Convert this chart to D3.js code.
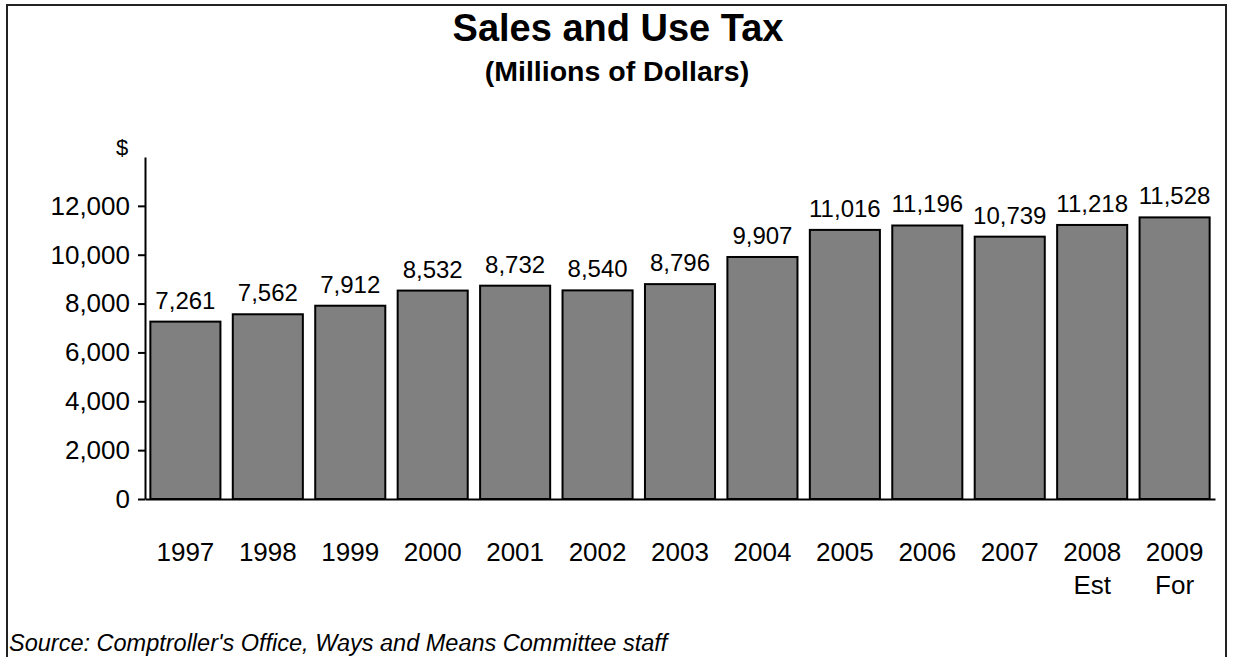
<!DOCTYPE html>
<html>
<head>
<meta charset="utf-8">
<script src="https://cdn.jsdelivr.net/npm/d3@7"></script>
<style>
  html, body { margin: 0; padding: 0; background: #fff; }
  svg { display: block; font-family: "Liberation Sans", Arial, sans-serif; }
</style>
</head>
<body>
<svg id="chart" width="1233" height="657"></svg>
<script>
// Sales and use tax collections by fiscal year (millions of dollars)
const years = ["1997", "1998", "1999", "2000", "2001", "2002", "2003", "2004", "2005", "2006", "2007", "2008", "2009"];
const yearNotes = ["", "", "", "", "", "", "", "", "", "", "", "Est", "For"];
const salesTax = [7261, 7562, 7912, 8532, 8732, 8540, 8796, 9907, 11016, 11196, 10739, 11218, 11528];
const yTicks = [0, 2000, 4000, 6000, 8000, 10000, 12000];

const svg = d3.select("#chart");
const fmt = d3.format(",");

// Outer frame
svg.append("rect")
  .attr("x", 7).attr("y", 5)
  .attr("width", 1219).attr("height", 700)
  .attr("fill", "none").attr("stroke", "#222").attr("stroke-width", 2);

// Titles
svg.append("text")
  .attr("x", 618).attr("y", 41)
  .attr("text-anchor", "middle")
  .attr("font-size", 38).attr("font-weight", "bold")
  .text("Sales and Use Tax");
svg.append("text")
  .attr("x", 617).attr("y", 81)
  .attr("text-anchor", "middle")
  .attr("font-size", 28.5).attr("font-weight", "bold")
  .text("(Millions of Dollars)");

// Scales
const x = d3.scaleBand()
  .domain(years)
  .range([145, 1215])
  .paddingInner(0.15)
  .paddingOuter(0.065);

const y = d3.scaleLinear()
  .domain([0, 14000])
  .range([499, 157]);

// Bars
svg.append("g")
  .selectAll("rect")
  .data(years)
  .join("rect")
  .attr("x", d => x(d))
  .attr("y", (d, i) => y(salesTax[i]))
  .attr("width", x.bandwidth())
  .attr("height", (d, i) => y(0) - y(salesTax[i]))
  .attr("fill", "#808080")
  .attr("stroke", "#000")
  .attr("stroke-width", 2);

// Value labels
svg.append("g")
  .selectAll("text")
  .data(years)
  .join("text")
  .attr("x", d => x(d) + x.bandwidth() / 2)
  .attr("y", (d, i) => y(salesTax[i]) - 13)
  .attr("text-anchor", "middle")
  .attr("font-size", 24)
  .text((d, i) => fmt(salesTax[i]));

// Y axis
const yAxis = svg.append("g")
  .attr("transform", "translate(145,0)")
  .call(d3.axisLeft(y).tickValues(yTicks).tickSize(7).tickPadding(8).tickFormat(fmt).tickSizeOuter(0));
yAxis.select(".domain").attr("stroke", "#000").attr("stroke-width", 2);
yAxis.selectAll(".tick line").attr("stroke", "#000").attr("stroke-width", 2);
yAxis.selectAll(".tick text")
  .attr("font-size", 26).attr("font-family", "Liberation Sans, Arial, sans-serif").attr("fill", "#000");

// Unit label above the y axis
svg.append("text")
  .attr("x", 122).attr("y", 155)
  .attr("text-anchor", "middle")
  .attr("font-size", 22)
  .text("$");

// X axis (line only, labels below)
const xAxis = svg.append("g")
  .attr("transform", "translate(0,499)")
  .call(d3.axisBottom(x).tickSize(0).tickSizeOuter(0).tickFormat(""));
xAxis.select(".domain").attr("stroke", "#000").attr("stroke-width", 2);

const xl = svg.append("g")
  .selectAll("text")
  .data(years)
  .join("text")
  .attr("x", d => x(d) + x.bandwidth() / 2)
  .attr("y", 561)
  .attr("text-anchor", "middle")
  .attr("font-size", 26);
xl.append("tspan").text(d => d);
xl.append("tspan")
  .attr("x", d => x(d) + x.bandwidth() / 2)
  .attr("dy", 33)
  .text((d, i) => yearNotes[i]);

// Source note
svg.append("text")
  .attr("x", 9).attr("y", 651)
  .attr("font-size", 23.5).attr("font-style", "italic")
  .text("Source: Comptroller's Office, Ways and Means Committee staff");
</script>
</body>
</html>
